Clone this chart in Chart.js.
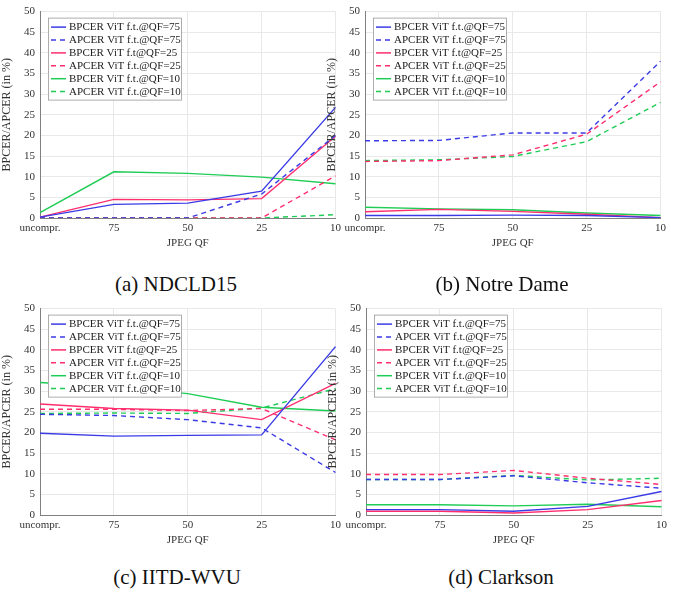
<!DOCTYPE html>
<html><head><meta charset="utf-8">
<script src="https://cdn.jsdelivr.net/npm/chart.js@4/dist/chart.umd.min.js"></script>
<style>
html,body{margin:0;padding:0;background:#fff;width:680px;height:594px;overflow:hidden;position:relative;font-family:'Liberation Serif','DejaVu Serif',serif;}
.pan{position:absolute;width:345px;height:250px;}
.cap{position:absolute;font-size:21px;color:#111;transform:translate(-50%,-50%);white-space:nowrap;}
</style></head><body>
<div class="pan" style="left:0;top:0"><canvas id="c0" width="345" height="250"></canvas></div>
<div class="pan" style="left:325px;top:0"><canvas id="c1" width="345" height="250"></canvas></div>
<div class="pan" style="left:0;top:297px"><canvas id="c2" width="345" height="250"></canvas></div>
<div class="pan" style="left:326px;top:297px"><canvas id="c3" width="345" height="250"></canvas></div>
<div class="cap" style="left:176px;top:284px">(a) NDCLD15</div>
<div class="cap" style="left:502px;top:284px">(b) Notre Dame</div>
<div class="cap" style="left:177px;top:577px">(c) IITD-WVU</div>
<div class="cap" style="left:501px;top:577px">(d) Clarkson</div>
<script>
const categories = ['uncompr.', '75', '50', '25', '10'];
const seriesNames = ['BPCER ViT f.t.@QF=75','APCER ViT f.t.@QF=75','BPCER ViT f.t@QF=25','APCER ViT f.t.@QF=25','BPCER ViT f.t.@QF=10','APCER ViT f.t.@QF=10'];
const yTicks = [0,5,10,15,20,25,30,35,40,45,50];

// (a) NDCLD15
const ndcld_bpcer75 = [0.2, 3.3, 3.6, 6.5, 26.8];
const ndcld_apcer75 = [0, 0, 0, 5.8, 20.0];
const ndcld_bpcer25 = [0.2, 4.5, 4.4, 4.7, 19.8];
const ndcld_apcer25 = [0, 0, 0, 0, 10.2];
const ndcld_bpcer10 = [1.3, 11.2, 10.8, 9.9, 8.3];
const ndcld_apcer10 = [0, 0, 0, 0, 0.8];
// (b) Notre Dame
const nd_bpcer75 = [0.6, 0.6, 0.7, 0.6, 0.1];
const nd_apcer75 = [18.7, 18.8, 20.6, 20.6, 38.0];
const nd_bpcer25 = [1.5, 2.1, 1.6, 0.9, 0.1];
const nd_apcer25 = [13.7, 13.9, 15.3, 20.3, 33.0];
const nd_bpcer10 = [2.6, 2.2, 2.0, 1.2, 0.6];
const nd_apcer10 = [13.9, 14.1, 14.9, 18.5, 28.0];
// (c) IITD-WVU
const iitd_bpcer75 = [19.8, 19.1, 19.3, 19.4, 40.8];
const iitd_apcer75 = [24.4, 24.1, 23.1, 21.1, 10.3];
const iitd_bpcer25 = [26.9, 25.8, 25.4, 23.1, 31.9];
const iitd_apcer25 = [25.6, 25.6, 25.3, 25.8, 18.2];
const iitd_bpcer10 = [32.1, 31.0, 29.4, 26.1, 25.2];
const iitd_apcer10 = [24.6, 24.7, 24.6, 25.9, 30.6];
// (d) Clarkson
const clk_bpcer75 = [1.3, 1.3, 0.9, 2.1, 5.7];
const clk_apcer75 = [8.6, 8.6, 9.5, 7.8, 6.5];
const clk_bpcer25 = [0.9, 0.9, 0.5, 1.3, 3.5];
const clk_apcer25 = [9.8, 9.8, 10.8, 8.9, 7.4];
const clk_bpcer10 = [2.5, 2.5, 2.2, 2.6, 2.0];
const clk_apcer10 = [8.6, 8.6, 9.6, 8.5, 8.9];

const colors = ['#3b3be6','#3b3be6','#ff2e6e','#ff2e6e','#1fcc55','#1fcc55'];
const dashed = [false,true,false,true,false,true];

const panels = [
  {id:'c0', data:[ndcld_bpcer75,ndcld_apcer75,ndcld_bpcer25,ndcld_apcer25,ndcld_bpcer10,ndcld_apcer10]},
  {id:'c1', data:[nd_bpcer75,nd_apcer75,nd_bpcer25,nd_apcer25,nd_bpcer10,nd_apcer10]},
  {id:'c2', data:[iitd_bpcer75,iitd_apcer75,iitd_bpcer25,iitd_apcer25,iitd_bpcer10,iitd_apcer10]},
  {id:'c3', data:[clk_bpcer75,clk_apcer75,clk_bpcer25,clk_apcer25,clk_bpcer10,clk_apcer10]}
];

const boxLegend = {
  id:'boxLegend',
  afterDatasetsDraw(chart){
    const ctx = chart.ctx, a = chart.chartArea;
    const x0 = a.left + 8, y0 = a.top + 6, w = 133, h = 82;
    ctx.save();
    ctx.fillStyle = '#fff';
    ctx.fillRect(x0, y0, w, h);
    ctx.strokeStyle = '#9a9a9a';
    ctx.lineWidth = 0.8;
    ctx.strokeRect(x0+0.5, y0+0.5, w, h);
    ctx.font = "11px 'Liberation Serif'";
    ctx.textBaseline = 'middle';
    chart.data.datasets.forEach((ds,i)=>{
      const y = y0 + 9.5 + i*12.9;
      ctx.strokeStyle = ds.borderColor;
      ctx.lineWidth = 1.5;
      ctx.setLineDash(ds.borderDash || []);
      ctx.beginPath(); ctx.moveTo(x0+3, y); ctx.lineTo(x0+18, y); ctx.stroke();
      ctx.setLineDash([]);
      ctx.fillStyle = '#222';
      ctx.fillText(ds.label, x0+21, y+0.5);
    });
    ctx.restore();
  }
};

panels.forEach(p=>{
  new Chart(document.getElementById(p.id), {
    type:'line',
    data:{
      labels: categories,
      datasets: p.data.map((d,i)=>({
        label: seriesNames[i],
        data: d,
        borderColor: colors[i],
        backgroundColor: colors[i],
        borderWidth: 1.4,
        borderDash: dashed[i] ? [5,4] : [],
        pointRadius: 0,
        tension: 0,
        fill: false
      }))
    },
    options:{
      responsive:false,
      animation:false,
      devicePixelRatio:1,
      layout:{padding:{left:0,right:0,top:10,bottom:0}},
      plugins:{legend:{display:false}, tooltip:{enabled:false}},
      scales:{
        x:{
          offset:false,
          grid:{color:'#e8e8e8', lineWidth:1, drawTicks:false},
          border:{color:'#808080'},
          ticks:{color:'#333', font:{family:'Liberation Serif', size:11}, padding:4, maxRotation:0, autoSkip:false},
          title:{display:true, text:'JPEG QF', color:'#333', font:{family:'Liberation Serif', size:11}, padding:{top:0,bottom:0}},
          afterFit(s){ s.height = 32; }
        },
        y:{
          min:0, max:50,
          afterBuildTicks(s){ s.ticks = yTicks.map(v=>({value:v})); },
          grid:{color:'#e8e8e8', lineWidth:1, drawTicks:false},
          border:{color:'#808080'},
          ticks:{color:'#333', font:{family:'Liberation Serif', size:11}, padding:5},
          title:{display:true, text:'BPCER/APCER (in %)', color:'#333', font:{family:'Liberation Serif', size:12}, padding:{top:0,bottom:2}},
          afterFit(s){ s.width = 40; }
        }
      }
    },
    plugins:[boxLegend]
  });
});
</script>
</body></html>
